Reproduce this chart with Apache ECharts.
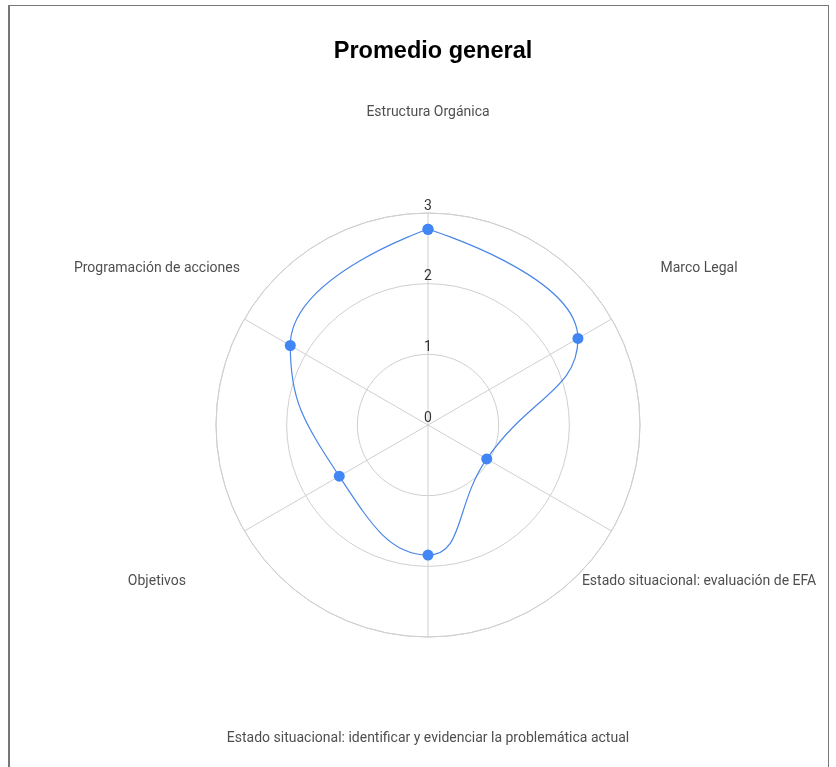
<!DOCTYPE html>
<html>
<head>
    <meta charset="utf-8">
    <script src="https://cdn.jsdelivr.net/npm/echarts@6/dist/echarts.min.js"></script>
    <style>
        body { margin: 0; background: #fff; }
        #frame { position: absolute; left: 8px; top: 5px; width: 818px; height: 800px; border: 1px solid #777; border-left-width: 2px; }
        #main { position: absolute; left: 0; top: 0; width: 836px; height: 767px; }
    </style>
</head>
<body>
    <div id="frame"></div>
    <div id="main"></div>
    <script type="text/javascript">
        // ejes del radar, en sentido horario desde arriba
        var categorias = [
            'Estructura Orgánica',
            'Marco Legal',
            'Estado situacional: evaluación de EFA',
            'Estado situacional: identificar y evidenciar la problemática actual',
            'Objetivos',
            'Programación de acciones'
        ];
        var valores = [2.77, 2.45, 0.96, 1.84, 1.45, 2.25];
        var escala = [0, 1, 2, 3];

        var paso = 360 / categorias.length;

        // puntos de la serie [radio, angulo], cerrando el contorno
        var puntos = [];
        for (var i = 0; i < valores.length; i++) {
            puntos.push([valores[i], i * paso]);
        }
        puntos.push([valores[0], 360]);

        // nombres de cada eje, colocados en un polar externo
        var nombres = [];
        for (var j = 0; j < categorias.length; j++) {
            nombres.push({ name: categorias[j], value: [1, j * paso] });
        }

        var myChart = echarts.init(document.getElementById('main'));

        var option = {
            backgroundColor: 'transparent',
            textStyle: { fontFamily: 'Roboto' },
            title: {
                text: 'Promedio general',
                left: 428,
                textAlign: 'center',
                top: 35,
                textStyle: { fontSize: 23.5, fontWeight: 'bold', color: '#000', fontFamily: 'Liberation Sans' }
            },
            polar: [
                { center: [428, 425], radius: 212 },
                { center: [428, 425], radius: 313 }
            ],
            angleAxis: [
                {
                    polarIndex: 0,
                    type: 'value',
                    min: 0,
                    max: 360,
                    interval: paso,
                    startAngle: 90,
                    clockwise: true,
                    axisLine: { lineStyle: { color: '#cfcfcf', width: 1 } },
                    axisTick: { show: false },
                    axisLabel: { show: false },
                    splitLine: { show: true, lineStyle: { color: '#cfcfcf', width: 1 } }
                },
                {
                    polarIndex: 1,
                    type: 'value',
                    min: 0,
                    max: 360,
                    startAngle: 90,
                    clockwise: true,
                    axisLine: { show: false },
                    axisTick: { show: false },
                    axisLabel: { show: false },
                    splitLine: { show: false }
                }
            ],
            radiusAxis: [
                {
                    polarIndex: 0,
                    type: 'value',
                    min: escala[0],
                    max: escala[escala.length - 1],
                    interval: 1,
                    axisLine: { show: false },
                    axisTick: { show: false },
                    axisLabel: {
                        show: true,
                        margin: 0,
                        align: 'center',
                        verticalAlign: 'bottom',
                        color: '#333',
                        fontSize: 14,
                        fontFamily: 'Roboto'
                    },
                    splitLine: { show: true, lineStyle: { color: '#cfcfcf', width: 1 } }
                },
                {
                    polarIndex: 1,
                    type: 'value',
                    min: 0,
                    max: 1,
                    axisLine: { show: false },
                    axisTick: { show: false },
                    axisLabel: { show: false },
                    splitLine: { show: false }
                }
            ],
            series: [
                {
                    type: 'line',
                    coordinateSystem: 'polar',
                    polarIndex: 0,
                    smooth: true,
                    data: puntos,
                    symbol: 'circle',
                    symbolSize: 11,
                    showAllSymbol: true,
                    lineStyle: { color: '#4a86e8', width: 1.2 },
                    itemStyle: { color: '#4285f4' },
                    silent: true,
                    animation: false
                },
                {
                    type: 'scatter',
                    coordinateSystem: 'polar',
                    polarIndex: 1,
                    data: nombres,
                    symbolSize: 1,
                    itemStyle: { color: 'transparent' },
                    label: {
                        show: true,
                        position: 'inside',
                        formatter: '{b}',
                        color: '#222',
                        fontSize: 14,
                        fontFamily: 'Roboto'
                    },
                    silent: true,
                    animation: false
                }
            ]
        };

        myChart.setOption(option);
    </script>
</body>
</html>
